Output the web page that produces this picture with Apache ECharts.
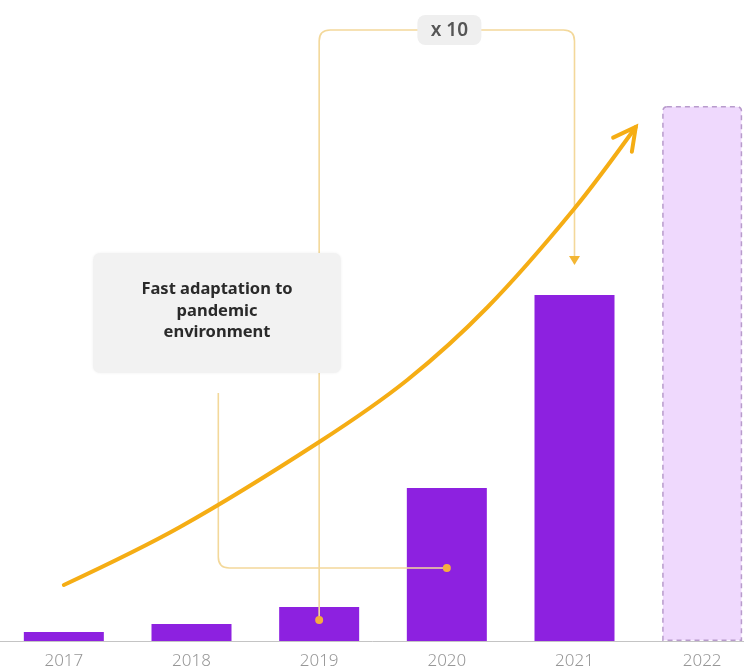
<!DOCTYPE html>
<html><head><meta charset="utf-8">
<script src="https://cdn.jsdelivr.net/npm/echarts@6/dist/echarts.min.js"></script>
<style>html,body{margin:0;padding:0;background:#fff}#c{width:744px;height:672px}</style>
</head><body><div id="c"></div>
<script>
// ---- data ----
const years = ['2017', '2018', '2019', '2020', '2021', '2022'];
const values = [0.9, 1.7, 3.4, 15.3, 34.6, 53.5];
const forecastIndex = 5;
// growth trend arrow (x in category units, y in value units)
const trendX = [0, 0.91, 2.0, 2.69, 3.32, 3.99, 4.48];
const trendY = [5.6, 11.4, 19.9, 26.1, 33.4, 43.1, 51.4];
// connector 2019 -> 2021 ("x 10")
const growthPathX = [2, 2, 4, 4];
const growthPathY = [2.1, 61.1, 61.1, 37.6];
// connector 2020 -> note
const notePathX = [3, 1.21, 1.21];
const notePathY = [7.3, 7.3, 24.8];
const multiplierLabel = 'x 10';
const multiplierAt = [3.02, 61.1];
const noteLabel = 'Fast adaptation to\npandemic\nenvironment';
const noteAt = [1.2, 32.8];

// ---- helpers ----
function roundedPath(pts, r) {
  let d = 'M' + pts[0][0] + ' ' + pts[0][1];
  for (let i = 1; i < pts.length - 1; i++) {
    const p0 = pts[i - 1], p1 = pts[i], p2 = pts[i + 1];
    const d1 = Math.hypot(p1[0] - p0[0], p1[1] - p0[1]);
    const d2 = Math.hypot(p2[0] - p1[0], p2[1] - p1[1]);
    const rr = Math.min(r, d1 / 2, d2 / 2);
    const a = [p1[0] + (p0[0] - p1[0]) / d1 * rr, p1[1] + (p0[1] - p1[1]) / d1 * rr];
    const b = [p1[0] + (p2[0] - p1[0]) / d2 * rr, p1[1] + (p2[1] - p1[1]) / d2 * rr];
    d += ' L' + a[0] + ' ' + a[1] + ' Q' + p1[0] + ' ' + p1[1] + ' ' + b[0] + ' ' + b[1];
  }
  const last = pts[pts.length - 1];
  d += ' L' + last[0] + ' ' + last[1];
  return d;
}
const connColor = '#F3D89A';
const dotColor = '#F5AE3E';
const trendColor = '#F5AD14';

function renderAnnotations(params, api) {
  const children = [];
  // connector 1
  const g = growthPathX.map((x, i) => api.coord([x, growthPathY[i]]));
  const tip = g[g.length - 1];
  const gLine = g.slice();
  gLine[gLine.length - 1] = [tip[0], tip[1] - 8];
  children.push({ type: 'path', shape: { pathData: roundedPath(gLine, 11) },
    style: { stroke: connColor, lineWidth: 1.6, fill: null } });
  children.push({ type: 'polygon', shape: { points: [[tip[0] - 5.5, tip[1] - 9], [tip[0] + 5.5, tip[1] - 9], [tip[0], tip[1]]] },
    style: { fill: '#F3B634' } });
  children.push({ type: 'circle', shape: { cx: g[0][0], cy: g[0][1], r: 4 }, style: { fill: dotColor } });
  // connector 2
  const n = notePathX.map((x, i) => api.coord([x, notePathY[i]]));
  children.push({ type: 'path', shape: { pathData: roundedPath(n, 11) },
    style: { stroke: connColor, lineWidth: 1.6, fill: null } });
  children.push({ type: 'circle', shape: { cx: n[0][0], cy: n[0][1], r: 4 }, style: { fill: dotColor } });
  // multiplier badge
  const m = api.coord(multiplierAt);
  children.push({ type: 'rect', shape: { x: m[0] - 32, y: m[1] - 15, width: 64, height: 30, r: 8 },
    style: { fill: '#EFEFEF' } });
  children.push({ type: 'text', x: m[0], y: m[1] + 1,
    style: { text: multiplierLabel, fill: '#555', fontSize: 19, fontWeight: 600,
      fontFamily: '"Noto Sans", sans-serif', align: 'center', verticalAlign: 'middle' } });
  // note box
  const b = api.coord(noteAt);
  children.push({ type: 'rect', shape: { x: b[0] - 124, y: b[1] - 60, width: 248, height: 120, r: 7 },
    style: { fill: '#F2F2F2', shadowBlur: 3, shadowColor: 'rgba(0,0,0,0.06)' } });
  children.push({ type: 'text', x: b[0], y: b[1] - 2,
    style: { text: noteLabel, fill: '#2a2a2a', fontSize: 16.5, fontWeight: 'bold', lineHeight: 21.5,
      fontFamily: '"Noto Sans", sans-serif', align: 'center', verticalAlign: 'middle' } });
  // trend arrow head
  const t1 = api.coord([trendX[trendX.length - 2], trendY[trendY.length - 2]]);
  const t2 = api.coord([trendX[trendX.length - 1], trendY[trendY.length - 1]]);
  const ang = Math.atan2(t2[1] - t1[1], t2[0] - t1[0]);
  const L = 25, half = 28 * Math.PI / 180;
  const w1 = [t2[0] - L * Math.cos(ang - half), t2[1] - L * Math.sin(ang - half)];
  const w2 = [t2[0] - L * Math.cos(ang + half), t2[1] - L * Math.sin(ang + half)];
  children.push({ type: 'polyline', shape: { points: [w1, t2, w2] },
    style: { stroke: trendColor, lineWidth: 4, fill: null, lineJoin: 'miter', lineCap: 'round' } });
  return { type: 'group', children: children };
}

const chart = echarts.init(document.getElementById('c'));
chart.setOption({
  animation: false,
  backgroundColor: '#fff',
  grid: { left: 0, right: -22, top: 1, bottom: 31, outerBoundsMode: 'none', containLabel: false },
  xAxis: [
    { type: 'category', data: years,
      axisLine: { show: true, lineStyle: { color: '#c4c4c4', width: 1 } },
      axisTick: { show: false },
      axisLabel: { color: '#979797', fontSize: 17, margin: 12, fontWeight: 300, fontFamily: '"Noto Sans", sans-serif' } },
    { type: 'value', min: -0.5, max: 5.5, show: false }
  ],
  yAxis: { type: 'value', min: 0, max: 64, show: false },
  series: [
    { type: 'bar', z: 1, barWidth: 80,
      data: values.map((v, i) => i === forecastIndex
        ? { value: v, itemStyle: { color: '#EFD9FD', borderColor: '#B89BCC', borderWidth: 1.5,
            borderType: [5, 4], borderRadius: [4, 4, 0, 0] } }
        : { value: v, itemStyle: { color: '#8D21E0' } }) },
    { type: 'custom', z: 2, xAxisIndex: 1, data: [[0, 0]], renderItem: renderAnnotations, silent: true },
    { type: 'line', z: 3, xAxisIndex: 1, smooth: 0.35, symbol: 'none',
      lineStyle: { color: trendColor, width: 4, cap: 'round' },
      data: trendX.map((x, i) => [x, trendY[i]]) }
  ]
});
</script></body></html>
